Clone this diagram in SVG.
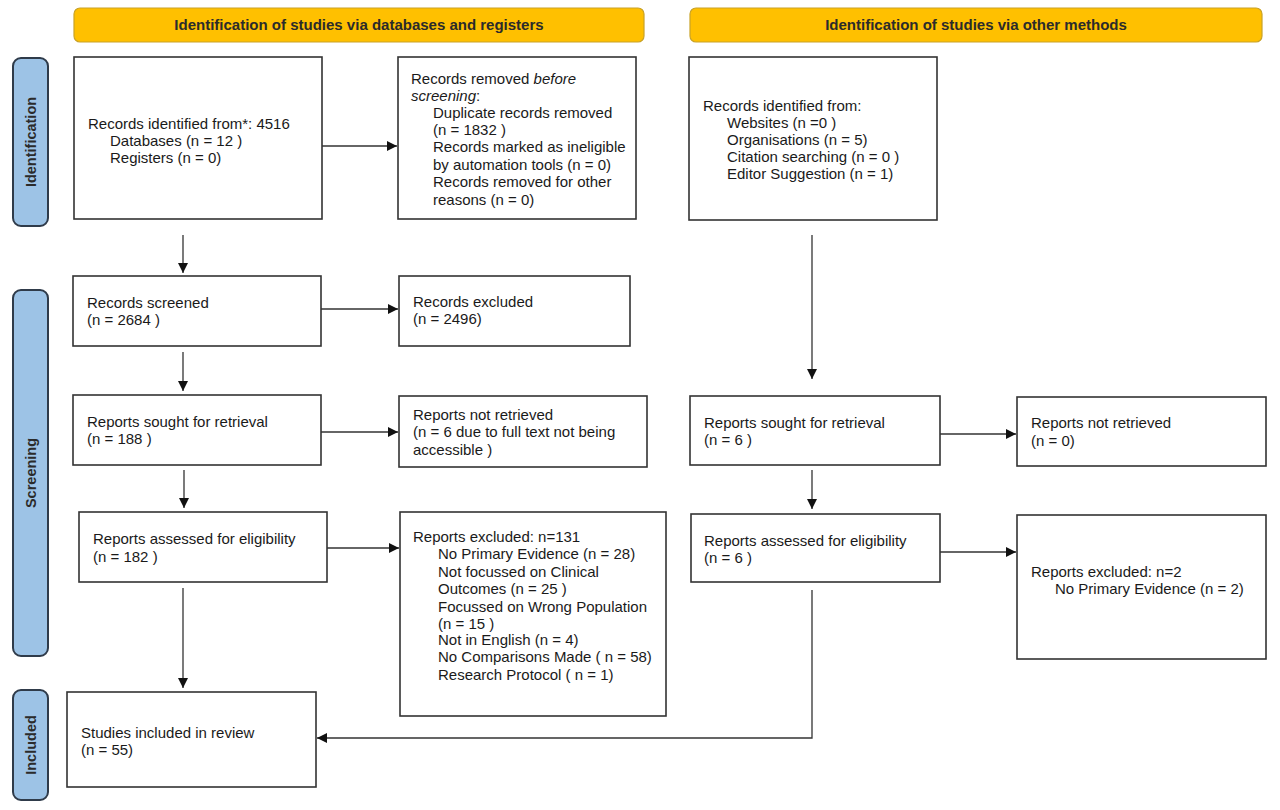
<svg xmlns="http://www.w3.org/2000/svg" width="1280" height="810" viewBox="0 0 1280 810">
<defs>
<style>
.bg{fill:#ffffff}
.hdr rect{fill:#FFC000;stroke:#C9A227;stroke-width:1.2}
.hdr text{font-family:"Liberation Sans",Arial,sans-serif;font-size:15px;font-weight:bold;fill:#2b2b2b;text-anchor:middle}
.side rect{fill:#9DC3E6;stroke:#2F3B4A;stroke-width:2}
.side text{font-family:"Liberation Sans",Arial,sans-serif;font-size:14.5px;font-weight:bold;fill:#2b2b2b;text-anchor:middle}
.box rect{fill:#ffffff;stroke:#333333;stroke-width:1.6}
.box text{font-family:"Liberation Sans",Arial,sans-serif;font-size:15px;fill:#1a1a1a}
.conn line,.conn polyline{stroke:#333333;stroke-width:1.3;fill:none}
</style>
<marker id="ah" viewBox="0 0 10 10" refX="10" refY="5" markerWidth="10" markerHeight="10" markerUnits="userSpaceOnUse" orient="auto">
<path d="M0,0 L10,5 L0,10 z" fill="#111111"/>
</marker>
</defs>
<rect class="bg" x="0" y="0" width="1280" height="810"/>

<g id="hdr-db" class="hdr"><rect x="74" y="8" width="570" height="34" rx="6"/><text x="359" y="30">Identification of studies via databases and registers</text></g>
<g id="hdr-other" class="hdr"><rect x="690" y="8" width="572" height="34" rx="6"/><text x="976" y="30">Identification of studies via other methods</text></g>

<g id="side-identification" class="side"><rect x="13" y="58" width="35" height="168" rx="8"/><text transform="translate(35.5,142) rotate(-90)">Identification</text></g>
<g id="side-screening" class="side"><rect x="13" y="290" width="35" height="366" rx="8"/><text transform="translate(35.5,473) rotate(-90)">Screening</text></g>
<g id="side-included" class="side"><rect x="13" y="690" width="35" height="110" rx="8"/><text transform="translate(35.5,745) rotate(-90)">Included</text></g>

<g id="n-identified" class="box"><rect x="74" y="57" width="248" height="162"/>
<text x="88" y="129">Records identified from*: 4516</text>
<text x="110" y="146">Databases (n = 12 )</text>
<text x="110" y="163">Registers (n = 0)</text></g>

<g id="n-removed" class="box"><rect x="398" y="57" width="238" height="162"/>
<text x="411" y="84">Records removed <tspan font-style="italic">before</tspan></text>
<text x="411" y="101"><tspan font-style="italic">screening</tspan>:</text>
<text x="433" y="118">Duplicate records removed</text>
<text x="433" y="135">(n = 1832 )</text>
<text x="433" y="152">Records marked as ineligible</text>
<text x="433" y="170">by automation tools (n = 0)</text>
<text x="433" y="187">Records removed for other</text>
<text x="433" y="205">reasons (n = 0)</text></g>

<g id="n-other-identified" class="box"><rect x="689" y="57" width="248" height="163"/>
<text x="703" y="111">Records identified from:</text>
<text x="727" y="128">Websites (n =0 )</text>
<text x="727" y="145">Organisations (n = 5)</text>
<text x="727" y="162">Citation searching (n = 0 )</text>
<text x="727" y="179">Editor Suggestion (n = 1)</text></g>

<g id="n-screened" class="box"><rect x="73" y="276" width="248" height="70"/>
<text x="87" y="308">Records screened</text>
<text x="87" y="325">(n = 2684 )</text></g>

<g id="n-excluded" class="box"><rect x="399" y="276" width="231" height="70"/>
<text x="413" y="307">Records excluded</text>
<text x="413" y="324">(n = 2496)</text></g>

<g id="n-sought" class="box"><rect x="73" y="395" width="248" height="70"/>
<text x="87" y="427">Reports sought for retrieval</text>
<text x="87" y="444">(n = 188 )</text></g>

<g id="n-notretrieved" class="box"><rect x="399" y="396" width="248" height="71"/>
<text x="413" y="420">Reports not retrieved</text>
<text x="413" y="437">(n = 6 due to full text not being</text>
<text x="413" y="455">accessible )</text></g>

<g id="n-assessed" class="box"><rect x="79" y="512" width="248" height="70"/>
<text x="93" y="544">Reports assessed for eligibility</text>
<text x="93" y="562">(n = 182 )</text></g>

<g id="n-reports-excluded" class="box"><rect x="400" y="512" width="266" height="204"/>
<text x="413" y="542">Reports excluded: n=131</text>
<text x="438" y="559">No Primary Evidence (n = 28)</text>
<text x="438" y="577">Not focussed on Clinical</text>
<text x="438" y="594">Outcomes (n = 25 )</text>
<text x="438" y="612">Focussed on Wrong Population</text>
<text x="438" y="629">(n = 15 )</text>
<text x="438" y="645">Not in English (n = 4)</text>
<text x="438" y="662">No Comparisons Made ( n = 58)</text>
<text x="438" y="680">Research Protocol ( n = 1)</text></g>

<g id="n-other-sought" class="box"><rect x="690" y="396" width="250" height="69"/>
<text x="704" y="428">Reports sought for retrieval</text>
<text x="704" y="445">(n = 6 )</text></g>

<g id="n-other-notretrieved" class="box"><rect x="1017" y="397" width="249" height="69"/>
<text x="1031" y="428">Reports not retrieved</text>
<text x="1031" y="446">(n = 0)</text></g>

<g id="n-other-assessed" class="box"><rect x="691" y="514" width="249" height="68"/>
<text x="704" y="546">Reports assessed for eligibility</text>
<text x="704" y="563">(n = 6 )</text></g>

<g id="n-other-excluded" class="box"><rect x="1017" y="515" width="249" height="144"/>
<text x="1031" y="577">Reports excluded: n=2</text>
<text x="1055" y="594">No Primary Evidence (n = 2)</text></g>

<g id="n-included" class="box"><rect x="67" y="692" width="249" height="95"/>
<text x="81" y="738">Studies included in review</text>
<text x="81" y="755">(n = 55)</text></g>

<g id="connectors" class="conn">
<line x1="322" y1="146" x2="397" y2="146" marker-end="url(#ah)"/>
<line x1="183" y1="235" x2="183" y2="273" marker-end="url(#ah)"/>
<line x1="321" y1="309" x2="398" y2="309" marker-end="url(#ah)"/>
<line x1="183" y1="352" x2="183" y2="391" marker-end="url(#ah)"/>
<line x1="321" y1="432" x2="398" y2="432" marker-end="url(#ah)"/>
<line x1="184" y1="470" x2="184" y2="508" marker-end="url(#ah)"/>
<line x1="327" y1="548" x2="399" y2="548" marker-end="url(#ah)"/>
<line x1="183" y1="588" x2="183" y2="688" marker-end="url(#ah)"/>
<line x1="812" y1="235" x2="812" y2="379" marker-end="url(#ah)"/>
<line x1="940" y1="434" x2="1016" y2="434" marker-end="url(#ah)"/>
<line x1="812" y1="470" x2="812" y2="509" marker-end="url(#ah)"/>
<line x1="940" y1="552" x2="1016" y2="552" marker-end="url(#ah)"/>
<polyline points="812,590 812,738 317,738" marker-end="url(#ah)"/>
</g>
</svg>
